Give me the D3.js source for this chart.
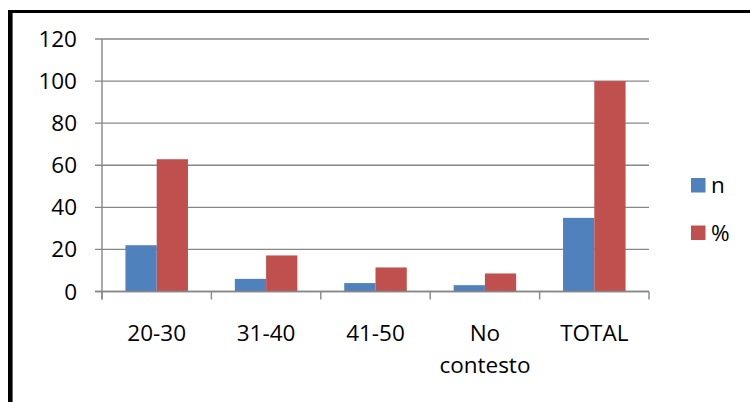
<!DOCTYPE html>
<html>
<head>
<meta charset="utf-8">
<script src="https://cdn.jsdelivr.net/npm/d3@7"></script>
<style>
  body { margin: 0; background: #fff; }
  text { font-family: "Open Sans", sans-serif; fill: #000; }
</style>
</head>
<body>
<svg id="chart" width="750" height="402"></svg>
<script>
// chart data
var categories = ["20-30", "31-40", "41-50", "No contesto", "TOTAL"];
var seriesNames = ["n", "%"];
var nValues = [22, 6, 4, 3, 35];
var pctValues = [62.86, 17.14, 11.43, 8.57, 100];
var yTicks = [0, 20, 40, 60, 80, 100, 120];
var colors = ["#4F81BD", "#C0504D"];

var svg = d3.select("#chart");
var fontSize = "22.5px";

// frame (top + left border visible)
svg.append("line")
  .attr("x1", 8).attr("y1", 11.5).attr("x2", 750).attr("y2", 11.5)
  .style("stroke", "#000").style("stroke-width", 3);
svg.append("line")
  .attr("x1", 10.3).attr("y1", 10).attr("x2", 10.3).attr("y2", 402)
  .style("stroke", "#000").style("stroke-width", 4.6);

// scales
var x = d3.scaleBand().domain(categories).range([102, 649]);
var xs = d3.scaleBand().domain(seriesNames).range([0, x.bandwidth()])
  .paddingInner(0).paddingOuter(0.75);
var y = d3.scaleLinear().domain([0, 120]).range([291.5, 39]);

var grey = "#878787";

// gridlines + y ticks
svg.selectAll(".grid").data(yTicks)
  .enter()
  .append("line")
    .attr("class", "grid")
    .attr("x1", 95)
    .attr("x2", 649)
    .attr("y1", d => y(d))
    .attr("y2", d => y(d))
    .style("stroke", grey)
    .style("stroke-width", 1.4);

svg.selectAll(".ylab").data(yTicks)
  .enter()
  .append("text")
    .attr("class", "ylab")
    .attr("x", 77)
    .attr("y", d => y(d) + 8)
    .text(d => d)
    .style("text-anchor", "end")
    .style("font-size", fontSize);

// y axis line
svg.append("line")
  .attr("x1", 102).attr("x2", 102)
  .attr("y1", y(120)).attr("y2", y(0) + 8)
  .style("stroke", grey).style("stroke-width", 1.4);

// x axis ticks at band boundaries
var bounds = categories.map(d => x(d)).concat([x.range()[1]]);
svg.selectAll(".xtick").data(bounds)
  .enter()
  .append("line")
    .attr("class", "xtick")
    .attr("x1", d => d).attr("x2", d => d)
    .attr("y1", y(0)).attr("y2", y(0) + 8)
    .style("stroke", grey).style("stroke-width", 1.4);

// bars
var series = [nValues, pctValues];
series.forEach(function(vals, si){
  svg.selectAll(".bar" + si).data(categories)
    .enter()
    .append("rect")
      .attr("class", "bar" + si)
      .attr("x", d => x(d) + xs(seriesNames[si]))
      .attr("width", xs.bandwidth())
      .attr("y", (d, i) => y(vals[i]))
      .attr("height", (d, i) => y(0) - y(vals[i]))
      .style("fill", colors[si]);
});

// redraw zero line over the bars
svg.append("line")
  .attr("x1", 95).attr("x2", 649)
  .attr("y1", y(0)).attr("y2", y(0))
  .style("stroke", grey).style("stroke-width", 1.4);

// category labels (split onto two lines where needed)
categories.forEach(function(c){
  var t = svg.append("text")
    .attr("x", x(c) + x.bandwidth() / 2)
    .attr("y", 341)
    .style("text-anchor", "middle")
    .style("font-size", fontSize);
  c.split(" ").forEach(function(w, i){
    t.append("tspan")
      .attr("x", x(c) + x.bandwidth() / 2)
      .attr("dy", i == 0 ? 0 : 31.5)
      .text(w);
  });
});

// legend
var legend = svg.selectAll(".leg").data(seriesNames)
  .enter()
  .append("g")
    .attr("class", "leg")
    .attr("transform", (d, i) => "translate(691," + (178 + i * 47.5) + ")");
legend.append("rect")
  .attr("width", 14.5).attr("height", 14.5)
  .style("fill", (d, i) => colors[i]);
legend.append("text")
  .attr("x", 20).attr("y", 15)
  .text(d => d)
  .style("font-size", fontSize);
</script>
</body>
</html>
